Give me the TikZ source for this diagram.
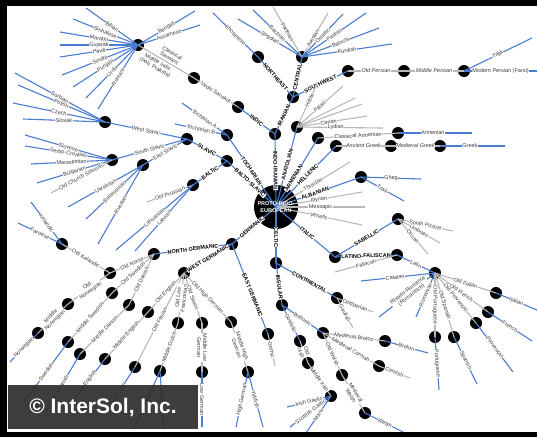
\documentclass[tikz,border=0pt]{standalone}
\usepackage{fontspec}
\setmainfont{Liberation Sans}
\definecolor{blueC}{HTML}{4A7DD0}
\definecolor{grayC}{HTML}{B8B8B8}
\definecolor{txtC}{HTML}{3C3C3C}
\definecolor{boxC}{HTML}{2D2D2D}
\tikzset{
 dot/.style={circle,fill=black,inner sep=0pt,minimum size=12pt},
 bl/.style={draw=blueC,line width=1.1pt},
 gr/.style={draw=grayC,line width=1.1pt},
 lab/.style={sloped,fill=white,inner sep=0.4pt,text=txtC,font=\fontsize{5.5}{6}\selectfont,align=center},
 blab/.style={lab,text=black,font=\fontsize{5.5}{6}\selectfont\bfseries},
 ilab/.style={lab,font=\fontsize{5.5}{6}\selectfont\itshape},
}
\newcommand\eBL[4][.5]{\draw[bl] (#2.center) -- node[lab,pos=#1]{#4} (#3.center);}
\newcommand\eGR[4][.5]{\draw[gr] (#2.center) -- node[lab,pos=#1]{#4} (#3.center);}
\newcommand\eGI[4][.5]{\draw[gr] (#2.center) -- node[ilab,pos=#1]{#4} (#3.center);}
\newcommand\eBR[4][.5]{\draw[bl] (#2.center) -- node[blab,pos=#1]{#4} (#3.center);}
\begin{document}
\begin{tikzpicture}[x=1pt,y=-1pt]
\useasboundingbox (0,0) rectangle (537,437);
\fill[white] (0,0) rectangle (537,437);
% ---------- dots
\node[dot,minimum size=44pt] (pie) at (276,207) {};
\foreach \n/\x/\y in {ii/275/134, iran/293/97, indic/238/107, ne/258/57, cen/302/57, sw/348/71, mp/404/71, farsi/464/71, vedic/194/78, ihub/138/45, toch/227/135, anat/297/127, arm/318/138, armn/398/133, hel/336/146, medg/391/146, grk/440/146, alb/361/177, ital/335/257, sab/398/219, latf/397/255, latin/435/273, oit/496/293, ofr/488/312, opr/476/323, osp/454/337, opt/435/337, celt/276/263, cont/337/298, ins/282/305, bryt/323/333, gdl/300/341, mbr/385/341, mcor/379/366, owel/342/375, mwel/365/413, oir/308/363, mir/331/396, germ/232/244, ng/154/254, wg/184/273, goth/268/334, onorse/110/273, oswe/112/293, odan/129/305, oice/62/244, onor/68/304, mnor/38/333, mswe/68/342, mdan/80/354, oeng/148/312, meng/105/359, ofri/135/367, olf/178/323, mdut/160/371, osax/202/323, mlg/202/372, ohg/231/322, mhg/248/372, bs/227/161, slav/187/139, balt/193/185, wsl/105/122, ssl/112/160, esl/143/165}
  \node[dot] (\n) at (\x,\y) {};
% ---------- leaf ends
\foreach \n/\x/\y in {lBen/195/11, lAss/200/25, lBih/86/8, lSin/73/19, lMar/60/32, lGuj/60/45, lHin/60/57, lSind/62/75, lPun/73/87, lUrd/86/98, lRom/98/109, lKho/213/13, lSog/238/19, lBac/253/10, lPar/273/7, lAve/328/13, lOss/343/14, lPas/366/13, lBal/379/28, lKur/392/44, lFarsi/537/71, lTaj/532/38, lTA/182/103, lTB/175/124, lHit/318/82, lPal/343/86, lAnc/355/98, lAnd/362/104, lCar/367/116, lLyd/383/128, lArm/472/133, lGrk/505/146, lThr/350/162, lGheg/421/179, lTosk/404/201, lIll/362/192, lMes/365/207, lVen/362/225, lSP/453/231, lUmb/440/243, lOsc/428/254, lFal/335/272, lCat/361/281, lRR/379/317, lRomn/416/317, lPort/439/390, lSpan/477/384, lProv/513/372, lFren/532/341, lItal/537/310, lCeltib/373/312, lGaul/353/328, lBret/428/353, lCorn/410/378, lWelsh/405/433, lIG/287/407, lSG/290/427, lManx/306/433, lGoth/275/366, lIce/31/202, lFar/18/223, lNorw/10/362, lSwe/24/402, lDan/46/412, lEng/75/398, lFris/105/413, lFlem/134/429, lDut/164/429, lLG/202/427, lHG/236/427, lYid/263/427, lOP/147/202, lLith/116/250, lLatv/135/251, lSorb/15/73, lPol/18/85, lCze/13/103, lSlk/23/119, lSlvn/25/135, lSC/25/146, lMac/31/164, lBul/37/183, lOCS/51/193, lUkr/68/207, lBel/86/219, lRus/98/244}
  \coordinate (\n) at (\x,\y);
% ---------- main branches
\eBR{pie}{ii}{INDO-IRANIAN}
\eBR[.53]{pie}{anat}{ANATOLIAN}
\eBR[.42]{pie}{arm}{ARMENIAN}
\eBR[.53]{pie}{hel}{HELLENIC}
\eGR{pie}{lThr}{Thracian}
\eBR[.46]{pie}{alb}{ALBANIAN}
\eGR{pie}{lIll}{Illyrian}
\eGR{pie}{lMes}{Messapic}
\eGR{pie}{lVen}{Venetic}
\eBR[.53]{pie}{ital}{ITALIC}
\eBR[.54]{pie}{celt}{CELTIC}
\eBR[.55]{pie}{germ}{GERMANIC}
\eBR[.53]{pie}{bs}{BALTO-SLAVIC}
\eBR{pie}{toch}{TOCHARIAN}
% ---------- Indo-Iranian
\eBR{ii}{indic}{INDIC}
\eBR{ii}{iran}{IRANIAN}
\eBR{iran}{ne}{NORTHEAST}
\eBR{iran}{cen}{CENTRAL}
\eBR{iran}{sw}{SOUTHWEST}
\eBL{ne}{lKho}{Khotanese}
\eBL{cen}{lSog}{Sogdian}
\eBL{cen}{lBac}{Bactrian}
\eGR{cen}{lPar}{Parthian}
\eGR[.42]{cen}{lAve}{Avestan}
\eBL{cen}{lOss}{Ossetic}
\eBL{cen}{lPas}{Pashto}
\eBL{cen}{lBal}{Baluchi}
\eBL{cen}{lKur}{Kurdish}
\eGI{sw}{mp}{Old Persian}
\eGI{mp}{farsi}{Middle Persian}
\eBL{farsi}{lFarsi}{Modern Persian (Farsi)}
\eBL{farsi}{lTaj}{Tajik}
\eGR{indic}{vedic}{Vedic Sanskrit}
\draw[gr] (ihub.center) -- node[lab,above=1.5pt,pos=.52]{Classical\\Sanskrit} node[lab,below=1.5pt,pos=.4]{Middle Indic\\(Pali, Prakrits)} (vedic.center);
\eBL{ihub}{lBen}{Bengali}
\eBL{ihub}{lAss}{Assamese}
\eBL{ihub}{lBih}{Bihari}
\eBL{ihub}{lSin}{Sinhalese}
\eBL{ihub}{lMar}{Marathi}
\eBL{ihub}{lGuj}{Gujarati}
\eBL{ihub}{lHin}{Hindi}
\eBL{ihub}{lSind}{Sindhi}
\eBL{ihub}{lPun}{Punjabi}
\eBL{ihub}{lUrd}{Urdu}
\eBL{ihub}{lRom}{Romani}
% ---------- Tocharian, Anatolian, Armenian, Greek, Albanian
\eBL{toch}{lTA}{Tocharian A}
\eBL{toch}{lTB}{Tocharian B}
\eGR[.6]{anat}{lHit}{Hittite}
\eGR{anat}{lPal}{Palaic}
\draw[gr] (anat.center) -- (lAnc.center);
\draw[gr] (anat.center) -- (lAnd.center);
\eGR[.45]{anat}{lCar}{Carian}
\eGR[.45]{anat}{lLyd}{Lydian}
\eGR{arm}{armn}{Classical Armenian}
\eBL[.47]{armn}{lArm}{Armenian}
\eGI{hel}{medg}{Ancient Greek}
\eGI{medg}{grk}{Medieval Greek}
\eBL[.46]{grk}{lGrk}{Greek}
\eBL{alb}{lGheg}{Gheg}
\eBL{alb}{lTosk}{Tosk}
% ---------- Italic
\eBR{ital}{sab}{SABELLIC}
\eBR{ital}{latf}{LATINO-FALISCAN}
\eGR{sab}{lSP}{South Picene}
\eGR{sab}{lUmb}{Umbrian}
\eGR{sab}{lOsc}{Oscan}
\eGR{latf}{lFal}{Faliscan}
\eBL{latf}{latin}{Latin}
\eBL[.54]{latin}{lCat}{Catalan}
\eBL[.45]{latin}{lRR}{Rhaeto-Romance\\(Rumantsch)}
\eBL{latin}{lRomn}{Romanian}
\eGR{latin}{opt}{Old Portuguese}
\eGR{latin}{osp}{Old Spanish}
\eGR{latin}{opr}{Old Provençal}
\eGR{latin}{ofr}{Old French}
\eGR{latin}{oit}{Old Italian}
\eBL{opt}{lPort}{Portuguese}
\eBL{osp}{lSpan}{Spanish}
\eBL{opr}{lProv}{Provençal}
\eBL{ofr}{lFren}{French}
\eBL{oit}{lItal}{Italian}
% ---------- Celtic
\eBR[.55]{celt}{cont}{CONTINENTAL}
\eBR[.57]{celt}{ins}{INSULAR}
\eGR{cont}{lCeltib}{Celtiberian}
\eGR{cont}{lGaul}{Gaulish}
\eBL{ins}{bryt}{Brittonic}
\eBL{ins}{gdl}{Goidelic}
\eGR{bryt}{mbr}{Medieval Breton}
\eGR{bryt}{mcor}{Medieval Cornish}
\eGR{bryt}{owel}{Old Welsh}
\eBL{mbr}{lBret}{Breton}
\eGR{mcor}{lCorn}{Cornish}
\eGR{owel}{mwel}{Medieval\\Welsh}
\eBL{mwel}{lWelsh}{Welsh}
\eGR{gdl}{oir}{Old\\Irish}
\eGR{oir}{mir}{Middle Irish}
\eBL{mir}{lIG}{Irish Gaelic}
\eBL{mir}{lSG}{Scottish Gaelic}
\eBL{mir}{lManx}{Manx}
% ---------- Germanic
\eBR{germ}{ng}{NORTH GERMANIC}
\eBR{germ}{wg}{WEST GERMANIC}
\eBR[.57]{germ}{goth}{EAST GERMANIC}
\eGR{goth}{lGoth}{Gothic}
\eGR{ng}{onorse}{Old Norse}
\eGR{ng}{oswe}{Old Swedish}
\eGR{ng}{odan}{Old Danish}
\eGR{onorse}{oice}{Old Icelandic}
\eBL{oice}{lIce}{Icelandic}
\eBL{oice}{lFar}{Faroese}
\eGR{onorse}{onor}{Old\\Norwegian}
\eGR{onor}{mnor}{Middle\\Norwegian}
\eBL{mnor}{lNorw}{Norwegian}
\eGR{oswe}{mswe}{Middle Swedish}
\eBL{mswe}{lSwe}{Swedish}
\eGR{odan}{mdan}{Middle Danish}
\eBL{mdan}{lDan}{Danish}
\eGR{wg}{oeng}{Old English}
\eGR{oeng}{meng}{Middle English}
\eBL{meng}{lEng}{English}
\eGR{wg}{ofri}{Old Frisian}
\eBL{ofri}{lFris}{Frisian}
\eGR{wg}{olf}{Old Low\\Franconian}
\eGR{olf}{mdut}{Middle Dutch}
\eBL{mdut}{lFlem}{Flemish}
\eBL{mdut}{lDut}{Dutch}
\eGR{wg}{osax}{Old Saxon}
\eGR{osax}{mlg}{Middle Low\\German}
\eBL{mlg}{lLG}{Low German}
\eGR{wg}{ohg}{Old High German}
\eGR{ohg}{mhg}{Middle High\\German}
\eBL{mhg}{lHG}{High German}
\eBL{mhg}{lYid}{Yiddish}
% ---------- Balto-Slavic
\eBR{bs}{slav}{SLAVIC}
\eBR{bs}{balt}{BALTIC}
\eGR{balt}{lOP}{Old Prussian}
\eBL{balt}{lLith}{Lithuanian}
\eBL{balt}{lLatv}{Latvian}
\eBL{slav}{wsl}{West Slavic}
\eBL{slav}{ssl}{South Slavic}
\eBL{slav}{esl}{East Slavic}
\eBL{wsl}{lSorb}{Sorbian}
\eBL{wsl}{lPol}{Polish}
\eBL{wsl}{lCze}{Czech}
\eBL{wsl}{lSlk}{Slovak}
\eBL{ssl}{lSlvn}{Slovene}
\eBL{ssl}{lSC}{Serbo-Croatian}
\eBL{ssl}{lMac}{Macedonian}
\eBL{ssl}{lBul}{Bulgarian}
\eGR{ssl}{lOCS}{Old Church Slavonic}
\eBL{esl}{lUkr}{Ukrainian}
\eBL{esl}{lBel}{Belarussian}
\eBL{esl}{lRus}{Russian}
% ---------- root text
\node[text=white,font=\fontsize{5.5}{7}\selectfont\bfseries,align=center] (pietext) at (pie.center) {PROTO-INDO-\\EUROPEAN};
% ---------- frame and copyright
\fill[black] (0,0) rectangle (537,6);
\fill[black] (0,0) rectangle (7,437);
\fill[black] (0,432) rectangle (537,437);
\fill[boxC,opacity=0.92] (8,385) rectangle (198,429);
\node[text=white,font=\fontsize{21}{24}\selectfont\bfseries] (copyr) at (103,408) {© InterSol, Inc.};
\end{tikzpicture}
\end{document}
